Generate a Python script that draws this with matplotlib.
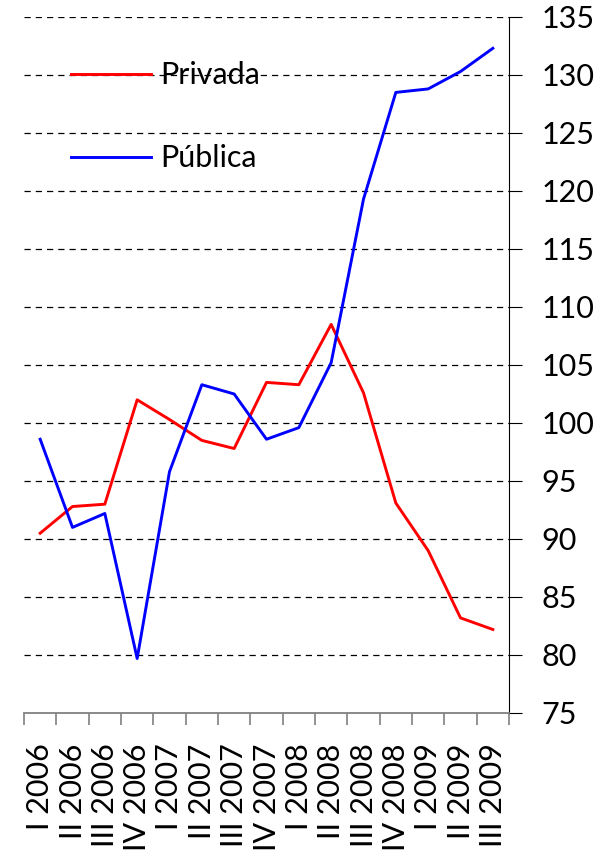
import matplotlib
matplotlib.use("Agg")
import matplotlib.pyplot as plt
from matplotlib.ticker import FixedLocator

plt.rcParams['font.family'] = ['Lato', 'DejaVu Sans']

categories = ["I 2006", "II 2006", "III 2006", "IV 2006",
              "I 2007", "II 2007", "III 2007", "IV 2007",
              "I 2008", "II 2008", "III 2008", "IV 2008",
              "I 2009", "II 2009", "III 2009"]
privada = [90.5, 92.8, 93.0, 102.0, 100.3, 98.5, 97.8, 103.5, 103.3,
           108.5, 102.6, 93.1, 89.0, 83.2, 82.2]
publica = [98.6, 91.0, 92.2, 79.7, 95.8, 103.3, 102.5, 98.6, 99.6,
           105.2, 119.3, 128.5, 128.8, 130.3, 132.3]
y_ticks = list(range(75, 136, 5))

fig = plt.figure(figsize=(6.03, 8.59), dpi=100)
ax = fig.add_axes([24/603, 1-713/859, (509-24)/603, (713-17)/859])

x = list(range(len(categories)))
ax.plot(x, privada, color='#ff0000', lw=2.1, label='Privada')
ax.plot(x, publica, color='#0000ff', lw=2.1, label='Pública')

ax.set_xlim(-0.5, len(categories) - 0.5)
ax.set_ylim(75, 135)

for v in y_ticks[1:]:
    ax.axhline(v, color='black', lw=0.9, ls=(0, (5, 4)), zorder=0)

ax.spines['left'].set_visible(False)
ax.spines['top'].set_visible(False)
ax.spines['right'].set_color('black')
ax.spines['right'].set_linewidth(0.8)
ax.spines['bottom'].set_color('#808080')
ax.spines['bottom'].set_linewidth(1.3)

ax.yaxis.tick_right()
ax.set_yticks(y_ticks)
ax.set_yticklabels([str(v) for v in y_ticks])
ax.tick_params(axis='y', which='major', direction='out', length=9.5, width=0.8,
               color='black', labelsize=22, pad=14)

ax.set_xticks(x)
ax.set_xticklabels(categories, rotation=90, va='top', ha='center')
ax.tick_params(axis='x', which='major', length=0, labelsize=22, pad=22)
ax.xaxis.set_minor_locator(FixedLocator([i - 0.5 for i in range(len(categories) + 1)]))
ax.tick_params(axis='x', which='minor', direction='out', length=8.5, width=1.2, color='#808080')

leg = ax.legend(loc='upper left', bbox_to_anchor=(0.041, 0.976), frameon=False,
                fontsize=22, handlelength=2.6, handletextpad=0.3, labelspacing=1.8)

fig.savefig('out.png', dpi=100)
